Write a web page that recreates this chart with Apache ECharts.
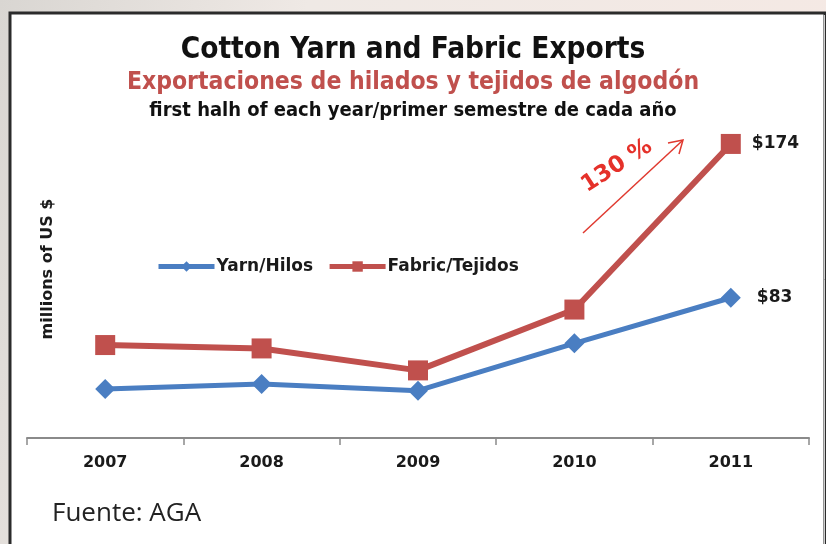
<!DOCTYPE html>
<html>
<head>
<meta charset="utf-8">
<script src="https://cdn.jsdelivr.net/npm/echarts@6/dist/echarts.min.js"></script>
<style>
  html, body { margin: 0; padding: 0; }
  #chart { width: 826px; height: 544px; }
</style>
</head>
<body>
<div id="chart"></div>
<script>
// Export values, millions of US $, first half of each year
const years = ['2007', '2008', '2009', '2010', '2011'];
const yarn = [29, 32, 28, 56, 83];
const fabric = [55, 53, 40, 76, 174];

const BLUE = '#4a7ec2';
const RED = '#c0504d';
const HEAD = '"DejaVu Sans Condensed", "Liberation Sans Narrow", sans-serif';
const BODY = '"DejaVu Sans", Verdana, sans-serif';

const chart = echarts.init(document.getElementById('chart'));

function lastLabel(values, gap) {
  return values.map((v, i) => i === values.length - 1
    ? { value: v, label: { show: true, position: 'right', distance: gap, formatter: '${c}',
        fontFamily: BODY, fontWeight: 'bold', fontSize: 17, color: '#1a1a1a' } }
    : v);
}

chart.setOption({
  animation: false,
  backgroundColor: {
    type: 'linear', x: 0, y: 0, x2: 1, y2: 0.4,
    colorStops: [
      { offset: 0, color: '#d9d6d2' },
      { offset: 0.35, color: '#efe9e5' },
      { offset: 1, color: '#f5e9e4' }
    ]
  },
  graphic: [
    // white panel with a dark frame
    { type: 'rect', z: -10, shape: { x: 10, y: 13, width: 815, height: 540 },
      style: { fill: '#ffffff', stroke: '#2b2b2b', lineWidth: 3 } },
    { type: 'line', z: -9, shape: { x1: 824.5, y1: 15, x2: 824.5, y2: 544 },
      style: { stroke: '#cfcfcf', lineWidth: 1 } },
    // growth arrow
    { type: 'line', shape: { x1: 583, y1: 233, x2: 682, y2: 141 },
      style: { stroke: '#e0392f', lineWidth: 1.5 } },
    { type: 'polyline', shape: { points: [[668, 143], [683, 140], [679, 154]] },
      style: { stroke: '#e0392f', lineWidth: 1.5, fill: null } },
    { type: 'text', x: 617, y: 166, rotation: 33 * Math.PI / 180,
      style: { text: '130 %', fill: '#e5312a', fontFamily: BODY,
        fontWeight: 'bold', fontSize: 23, align: 'center', verticalAlign: 'middle' } },
    // source note
    { type: 'text', left: 52, top: 501,
      style: { text: 'Fuente: AGA', fill: '#222222', fontFamily: '"Open Sans", sans-serif', fontSize: 26 } }
  ],
  title: [
    { text: 'Cotton Yarn and Fabric Exports', left: 'center', top: 30,
      textStyle: { fontFamily: HEAD, fontWeight: 'bold', fontSize: 29.5, color: '#111111' } },
    { text: 'Exportaciones de hilados y tejidos de algodón', left: 'center', top: 65,
      textStyle: { fontFamily: HEAD, fontWeight: 'bold', fontSize: 24.5, color: '#c0504d' } },
    { text: 'first halh of each year/primer semestre de cada año', left: 'center', top: 96,
      textStyle: { fontFamily: HEAD, fontWeight: 'bold', fontSize: 20, color: '#111111' } }
  ],
  legend: {
    left: 151, top: 253,
    itemWidth: 56, itemHeight: 13, itemGap: 14,
    lineStyle: { width: 5 },
    textStyle: { fontFamily: BODY, fontWeight: 'bold', fontSize: 17, color: '#1a1a1a', padding: [0, 0, 0, -3] },
    data: ['Yarn/Hilos', 'Fabric/Tejidos']
  },
  grid: { left: 27, right: 17, top: 100, bottom: 106 },
  xAxis: {
    type: 'category', data: years, boundaryGap: true,
    axisLine: { lineStyle: { color: '#8a8a8a', width: 2 } },
    axisTick: { show: true, length: 7, lineStyle: { color: '#8a8a8a', width: 1.5 } },
    axisLabel: { margin: 17, fontFamily: BODY, fontWeight: 'bold', fontSize: 16, color: '#1a1a1a' }
  },
  yAxis: {
    type: 'value', min: 0, max: 200,
    axisLine: { show: false }, axisTick: { show: false }, axisLabel: { show: false }, splitLine: { show: false },
    name: 'millions of US $', nameLocation: 'middle', nameRotate: 90, nameGap: -29,
    nameTextStyle: { fontFamily: BODY, fontWeight: 'bold', fontSize: 16, color: '#1a1a1a' }
  },
  series: [
    { name: 'Yarn/Hilos', type: 'line', data: lastLabel(yarn, 16),
      symbol: 'diamond', symbolSize: 20,
      lineStyle: { color: BLUE, width: 5 }, itemStyle: { color: BLUE } },
    { name: 'Fabric/Tejidos', type: 'line', data: lastLabel(fabric, 11),
      symbol: 'rect', symbolSize: 20,
      lineStyle: { color: RED, width: 6 }, itemStyle: { color: RED } }
  ]
});
</script>
</body>
</html>
